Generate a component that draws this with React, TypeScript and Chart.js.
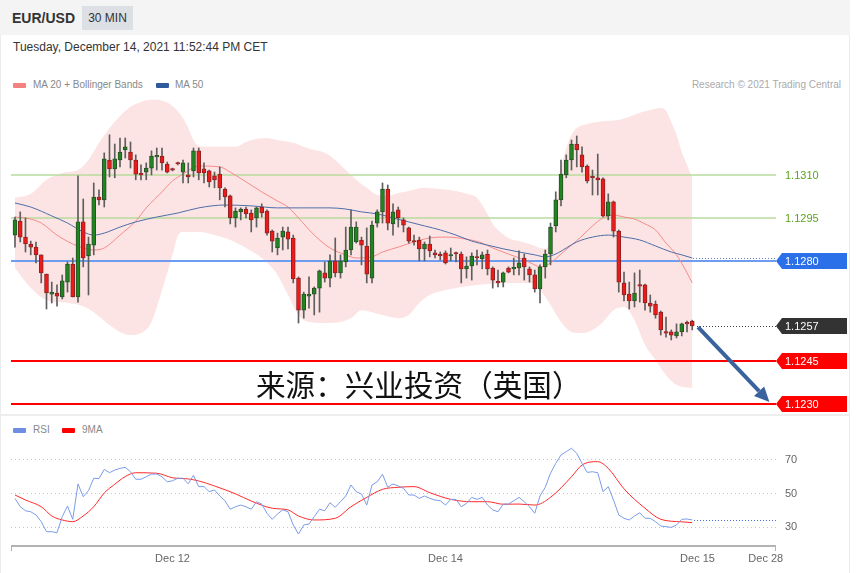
import React, { useEffect, useRef } from "react";
import { Chart, registerables } from "chart.js";
Chart.register(...registerables);

// ---------- DATA (EUR/USD, 30 min candles) ----------
const opens = [
  1.12890, 1.12939, 1.12883, 1.12859, 1.12848, 1.12821, 1.12754, 1.12684, 1.12688, 1.12674,
  1.12726, 1.12789, 1.12674, 1.12936, 1.12817, 1.12855, 1.13023, 1.13013, 1.13152, 1.13121,
  1.13152, 1.13187, 1.13180, 1.13152, 1.13103, 1.13110, 1.13124, 1.13163, 1.13166, 1.13138,
  1.13121, 1.13142, 1.13110, 1.13100, 1.13114, 1.13184, 1.13121, 1.13114, 1.13097, 1.13103,
  1.13051, 1.13027, 1.12950, 1.12971, 1.12981, 1.12967, 1.12950, 1.12988, 1.12974, 1.12904,
  1.12845, 1.12883, 1.12901, 1.12880, 1.12740, 1.12628, 1.12677, 1.12684, 1.12705, 1.12758,
  1.12740, 1.12800, 1.12758, 1.12796, 1.12838, 1.12866, 1.12873, 1.12852, 1.12740, 1.12932,
  1.12971, 1.13051, 1.12929, 1.12978, 1.12943, 1.12915, 1.12869, 1.12873, 1.12842, 1.12859,
  1.12828, 1.12824, 1.12828, 1.12817, 1.12828, 1.12824, 1.12772, 1.12782, 1.12814, 1.12807,
  1.12824, 1.12775, 1.12726, 1.12726, 1.12775, 1.12772, 1.12775, 1.12810, 1.12772, 1.12751,
  1.12702, 1.12779, 1.12824, 1.12922, 1.13013, 1.13100, 1.13152, 1.13208, 1.13170, 1.13131,
  1.13093, 1.13090, 1.13086, 1.12957, 1.13006, 1.12904, 1.12723, 1.12684, 1.12660, 1.12716,
  1.12716, 1.12653, 1.12649, 1.12621, 1.12552, 1.12552, 1.12538, 1.12552, 1.12583, 1.12590,
];
const highs = [
  1.12953, 1.12971, 1.12950, 1.12869, 1.12866, 1.12821, 1.12754, 1.12726, 1.12716, 1.12751,
  1.12796, 1.12810, 1.13097, 1.13016, 1.12883, 1.13072, 1.13048, 1.13177, 1.13240, 1.13208,
  1.13229, 1.13229, 1.13215, 1.13170, 1.13135, 1.13142, 1.13184, 1.13194, 1.13194, 1.13145,
  1.13124, 1.13145, 1.13152, 1.13142, 1.13194, 1.13194, 1.13142, 1.13117, 1.13110, 1.13128,
  1.13055, 1.13030, 1.12985, 1.12985, 1.12988, 1.12978, 1.12988, 1.12999, 1.12978, 1.12908,
  1.12897, 1.12918, 1.12918, 1.12890, 1.12744, 1.12691, 1.12744, 1.12709, 1.12768, 1.12796,
  1.12821, 1.12880, 1.12821, 1.12918, 1.12978, 1.12936, 1.12883, 1.12915, 1.12939, 1.12978,
  1.13072, 1.13065, 1.12999, 1.12988, 1.12950, 1.12918, 1.12890, 1.12883, 1.12866, 1.12887,
  1.12838, 1.12831, 1.12835, 1.12845, 1.12831, 1.12831, 1.12814, 1.12828, 1.12838, 1.12831,
  1.12838, 1.12779, 1.12768, 1.12761, 1.12779, 1.12810, 1.12835, 1.12824, 1.12779, 1.12768,
  1.12786, 1.12838, 1.12932, 1.13041, 1.13152, 1.13170, 1.13222, 1.13236, 1.13198, 1.13135,
  1.13117, 1.13173, 1.13090, 1.13034, 1.13009, 1.12908, 1.12761, 1.12726, 1.12758, 1.12768,
  1.12719, 1.12681, 1.12660, 1.12625, 1.12604, 1.12559, 1.12580, 1.12583, 1.12590, 1.12593,
];
const lows = [
  1.12848, 1.12866, 1.12831, 1.12821, 1.12793, 1.12723, 1.12632, 1.12653, 1.12642, 1.12667,
  1.12691, 1.12674, 1.12656, 1.12779, 1.12681, 1.12821, 1.12995, 1.12988, 1.13093, 1.13090,
  1.13128, 1.13159, 1.13124, 1.13083, 1.13083, 1.13083, 1.13100, 1.13117, 1.13117, 1.13107,
  1.13114, 1.13135, 1.13072, 1.13072, 1.13093, 1.13083, 1.13072, 1.13058, 1.13055, 1.13013,
  1.12988, 1.12929, 1.12918, 1.12943, 1.12950, 1.12901, 1.12918, 1.12953, 1.12890, 1.12831,
  1.12821, 1.12838, 1.12842, 1.12723, 1.12583, 1.12600, 1.12635, 1.12611, 1.12621, 1.12726,
  1.12709, 1.12744, 1.12740, 1.12779, 1.12821, 1.12862, 1.12786, 1.12723, 1.12723, 1.12918,
  1.12932, 1.12908, 1.12890, 1.12918, 1.12901, 1.12862, 1.12855, 1.12800, 1.12800, 1.12814,
  1.12810, 1.12803, 1.12789, 1.12800, 1.12796, 1.12723, 1.12740, 1.12733, 1.12786, 1.12772,
  1.12751, 1.12705, 1.12709, 1.12709, 1.12758, 1.12751, 1.12751, 1.12733, 1.12726, 1.12691,
  1.12653, 1.12740, 1.12786, 1.12901, 1.12992, 1.13090, 1.13117, 1.13128, 1.13110, 1.13072,
  1.13030, 1.13030, 1.12953, 1.12943, 1.12883, 1.12691, 1.12660, 1.12632, 1.12639, 1.12656,
  1.12628, 1.12621, 1.12600, 1.12541, 1.12534, 1.12524, 1.12531, 1.12538, 1.12552, 1.12559,
];
const closes = [
  1.12943, 1.12883, 1.12859, 1.12848, 1.12821, 1.12758, 1.12688, 1.12691, 1.12677, 1.12730,
  1.12789, 1.12674, 1.12936, 1.12810, 1.12859, 1.13023, 1.13013, 1.13156, 1.13121, 1.13156,
  1.13180, 1.13198, 1.13152, 1.13103, 1.13100, 1.13124, 1.13166, 1.13166, 1.13142, 1.13110,
  1.13117, 1.13138, 1.13142, 1.13093, 1.13184, 1.13107, 1.13107, 1.13076, 1.13083, 1.13055,
  1.13023, 1.12950, 1.12974, 1.12981, 1.12964, 1.12943, 1.12985, 1.12967, 1.12897, 1.12869,
  1.12880, 1.12904, 1.12876, 1.12737, 1.12628, 1.12684, 1.12684, 1.12705, 1.12765, 1.12740,
  1.12800, 1.12758, 1.12800, 1.12838, 1.12918, 1.12918, 1.12855, 1.12754, 1.12925, 1.12971,
  1.13051, 1.12932, 1.12971, 1.12950, 1.12925, 1.12869, 1.12866, 1.12842, 1.12859, 1.12835,
  1.12821, 1.12817, 1.12793, 1.12821, 1.12824, 1.12772, 1.12782, 1.12817, 1.12810, 1.12821,
  1.12772, 1.12733, 1.12723, 1.12758, 1.12761, 1.12775, 1.12793, 1.12779, 1.12751, 1.12702,
  1.12779, 1.12824, 1.12918, 1.13013, 1.13103, 1.13152, 1.13208, 1.13187, 1.13128, 1.13079,
  1.13090, 1.13083, 1.12957, 1.13006, 1.12904, 1.12726, 1.12681, 1.12660, 1.12688, 1.12712,
  1.12653, 1.12642, 1.12611, 1.12559, 1.12548, 1.12541, 1.12552, 1.12580, 1.12580, 1.12573,
];

// Bollinger bands (MA 20 +/- 2 sd), sampled by candle index
const bandUpperIdx = [0, 3, 6, 9, 12, 14, 16, 18, 20, 22, 24, 26, 28, 30, 32, 33, 34, 35, 38, 42, 44, 46, 48, 50, 53, 56, 59, 61, 63, 65, 67, 69, 71, 73, 75, 78, 81, 84, 86, 88, 89, 90, 91, 92, 94, 96, 98, 100, 101, 102, 103, 104, 105, 106, 107, 109, 111, 113, 115, 117, 119, 121, 123, 124, 125, 126, 127, 128, 129];
const bandUpper = [1.13020, 1.13034, 1.13083, 1.13107, 1.13117, 1.13152, 1.13212, 1.13264, 1.13306, 1.13338, 1.13355, 1.13362, 1.13359, 1.13341, 1.13299, 1.13264, 1.13222, 1.13201, 1.13198, 1.13198, 1.13215, 1.13226, 1.13229, 1.13222, 1.13212, 1.13191, 1.13177, 1.13152, 1.13117, 1.13083, 1.13055, 1.13030, 1.13027, 1.13037, 1.13044, 1.13055, 1.13051, 1.13044, 1.13034, 1.13020, 1.12995, 1.12964, 1.12929, 1.12908, 1.12880, 1.12869, 1.12859, 1.12845, 1.12842, 1.12873, 1.12978, 1.13117, 1.13194, 1.13240, 1.13264, 1.13278, 1.13285, 1.13289, 1.13292, 1.13303, 1.13317, 1.13327, 1.13334, 1.13324, 1.13285, 1.13240, 1.13180, 1.13135, 1.13090];
const bandLowerIdx = [0, 3, 6, 10, 13, 15, 18, 20, 22, 24, 26, 28, 30, 31, 32, 35, 38, 41, 44, 47, 50, 52, 54, 56, 60, 64, 66, 68, 70, 73, 75, 77, 79, 82, 85, 90, 95, 98, 100, 102, 104, 106, 108, 110, 112, 114, 116, 118, 120, 122, 124, 126, 129];
const bandLower = [1.12775, 1.12705, 1.12663, 1.12653, 1.12642, 1.12621, 1.12576, 1.12552, 1.12541, 1.12548, 1.12587, 1.12698, 1.12821, 1.12887, 1.12901, 1.12901, 1.12890, 1.12873, 1.12845, 1.12810, 1.12751, 1.12681, 1.12611, 1.12587, 1.12583, 1.12600, 1.12628, 1.12621, 1.12611, 1.12600, 1.12611, 1.12653, 1.12681, 1.12698, 1.12709, 1.12719, 1.12723, 1.12723, 1.12698, 1.12646, 1.12587, 1.12552, 1.12548, 1.12559, 1.12587, 1.12628, 1.12639, 1.12593, 1.12506, 1.12454, 1.12401, 1.12367, 1.12356];

const ma20Idx = [0, 3, 5, 8, 11, 13, 15, 17, 20, 23, 25, 28, 30, 32, 35, 39, 41, 44, 47, 50, 52, 54, 57, 60, 63, 65, 68, 70, 73, 76, 79, 82, 86, 89, 91, 94, 97, 99, 100, 102, 104, 106, 108, 110, 112, 114, 116, 118, 120, 122, 124, 126, 128, 129];
const ma20 = [1.12953, 1.12946, 1.12932, 1.12890, 1.12859, 1.12845, 1.12838, 1.12845, 1.12890, 1.12939, 1.12985, 1.13041, 1.13079, 1.13103, 1.13131, 1.13128, 1.13110, 1.13076, 1.13041, 1.13009, 1.12988, 1.12950, 1.12890, 1.12845, 1.12821, 1.12810, 1.12814, 1.12831, 1.12848, 1.12866, 1.12880, 1.12883, 1.12876, 1.12862, 1.12845, 1.12824, 1.12803, 1.12786, 1.12779, 1.12793, 1.12824, 1.12855, 1.12887, 1.12922, 1.12950, 1.12960, 1.12953, 1.12946, 1.12929, 1.12908, 1.12862, 1.12821, 1.12758, 1.12723];

const ma50Idx = [0, 3, 7, 10, 13, 15, 17, 20, 23, 27, 31, 35, 40, 45, 50, 55, 60, 63, 66, 69, 72, 75, 78, 81, 84, 87, 90, 93, 96, 99, 101, 103, 105, 107, 110, 113, 116, 119, 122, 125, 127, 129];
const ma50 = [1.13002, 1.12988, 1.12957, 1.12932, 1.12901, 1.12890, 1.12897, 1.12918, 1.12936, 1.12953, 1.12967, 1.12985, 1.12995, 1.12992, 1.12985, 1.12985, 1.12985, 1.12981, 1.12971, 1.12964, 1.12950, 1.12936, 1.12922, 1.12908, 1.12890, 1.12869, 1.12855, 1.12842, 1.12831, 1.12821, 1.12814, 1.12824, 1.12845, 1.12866, 1.12883, 1.12890, 1.12883, 1.12873, 1.12852, 1.12831, 1.12821, 1.12810];

// RSI (one value per candle) and its 9-period MA
const rsi = [
  46.8, 41.8, 39.4, 38.8, 36.9, 32.9, 26.9, 26.9, 26.3, 35.9,
  42.2, 34.3, 55.4, 47.8, 51.4, 58.8, 58.6, 64.1, 62.1, 63.7,
  64.7, 65.3, 62.7, 58.2, 58.2, 59.7, 61.3, 61.3, 59.7, 56.7,
  57.3, 58.8, 58.8, 55.5, 60.6, 53.8, 53.8, 50.8, 51.8, 48.2,
  45.4, 40.3, 41.8, 42.8, 41.8, 40.3, 44.8, 43.4, 37.9, 34.3,
  37.5, 39.9, 38.8, 30.9, 25.5, 30.9, 31.5, 35.9, 40.3, 39.4,
  44.2, 41.5, 44.8, 48.2, 54.8, 50.8, 49.4, 42.8, 54.8, 56.7,
  61.2, 53.4, 55.4, 54.2, 52.8, 48.8, 48.8, 46.8, 48.2, 46.8,
  45.8, 45.4, 42.8, 46.2, 46.2, 41.8, 43.8, 47.4, 46.2, 47.4,
  42.8, 39.9, 38.8, 43.4, 43.4, 45.4, 47.4, 44.8, 41.8, 37.9,
  48.2, 53.4, 61.8, 67.7, 72.7, 74.7, 76.7, 73.7, 67.7, 62.3,
  62.7, 62.1, 50.8, 53.8, 45.8, 36.9, 34.9, 33.9, 36.3, 38.2,
  34.9, 34.9, 32.9, 30.3, 29.9, 29.5, 30.9, 34.3, 34.5, 33.9,
];
const rsiMaIdx = [0, 2, 5, 7, 9, 11, 13, 15, 17, 19, 21, 23, 27, 30, 33, 35, 38, 42, 45, 49, 52, 54, 57, 61, 64, 67, 70, 73, 76, 79, 83, 87, 90, 93, 96, 99, 102, 106, 108, 111, 113, 116, 120, 123, 127, 129];
const rsiMa = [48.8, 45.8, 41.8, 36.3, 33.9, 32.9, 36.3, 41.8, 50.0, 55.2, 59.8, 62.1, 61.8, 59.1, 58.4, 57.2, 54.2, 49.5, 45.2, 40.9, 39.9, 36.3, 33.9, 34.9, 41.8, 47.4, 52.2, 53.4, 53.8, 50.2, 46.2, 44.8, 44.8, 43.3, 43.4, 42.8, 47.4, 59.7, 66.7, 68.7, 64.7, 52.5, 40.9, 34.3, 32.8, 32.3];

// Key levels, ticks and the forecast arrow
const resistanceLevels = [1.131, 1.1295];
const pivotLevel = 1.128;
const supportLevels = [1.1245, 1.123];
const xTickIdx = [30, 82, 130, 143];
const xTickLabels = ["Dec 12", "Dec 14", "Dec 15", "Dec 28"];
const rsiTicks = [30, 50, 70];
const arrowFrom = { x: 130.1, y: 1.12569 };
const arrowTo = { x: 143.7, y: 1.12307 };

// ---------- LAYOUT ----------
const FONT = '"Liberation Sans", Arial, Helvetica, sans-serif';
const X_MIN = -0.76;
const X_MAX = 144.95;

const pts = (ix: number[], v: number[]) => ix.map((x, k) => ({ x, y: v[k] }));

function dotted(ctx: CanvasRenderingContext2D, x0: number, x1: number, y: number, color: string, step: number) {
  ctx.save();
  ctx.fillStyle = color;
  const py = Math.round(y);
  for (let x = x0; x < x1; x += step) ctx.fillRect(Math.round(x), py, 1, 1);
  ctx.restore();
}

const mainPlugin = {
  id: "mainDeco",
  afterDatasetDraw(chart: any, args: any) {
    if (args.index !== 1) return;
    const { ctx, chartArea: a } = chart;
    const y = chart.scales.y;
    const hline = (v: number, color: string, w: number) => {
      const py = Math.round(y.getPixelForValue(v));
      ctx.save();
      ctx.strokeStyle = color;
      ctx.lineWidth = w;
      ctx.beginPath();
      ctx.moveTo(a.left, py);
      ctx.lineTo(a.right, py);
      ctx.stroke();
      ctx.restore();
    };
    resistanceLevels.forEach((v) => hline(v, "#b7db9e", 1.5));
    hline(pivotLevel, "#6d9cf0", 2);
    supportLevels.forEach((v) => hline(v, "#ff0000", 2));
  },
  afterDraw(chart: any) {
    const { ctx, chartArea: a } = chart;
    const y = chart.scales.y;
    const x = chart.scales.x;
    const last = closes.length - 1;
    // dotted extensions
    dotted(ctx, x.getPixelForValue(ma50Idx[ma50Idx.length - 1]) + 1, a.right, y.getPixelForValue(ma50[ma50.length - 1]), "#5b80c4", 3);
    dotted(ctx, x.getPixelForValue(last) + 5, a.right, y.getPixelForValue(closes[last]), "#444444", 3);

    // arrow
    const x0 = x.getPixelForValue(arrowFrom.x), y0 = y.getPixelForValue(arrowFrom.y);
    const x1 = x.getPixelForValue(arrowTo.x), y1 = y.getPixelForValue(arrowTo.y);
    const ang = Math.atan2(y1 - y0, x1 - x0);
    const headLen = 15, headW = 7;
    const bx = x1 - headLen * Math.cos(ang), by = y1 - headLen * Math.sin(ang);
    ctx.save();
    ctx.strokeStyle = "#3a639d";
    ctx.fillStyle = "#3a639d";
    ctx.lineWidth = 4;
    ctx.beginPath();
    ctx.moveTo(x0, y0);
    ctx.lineTo(bx, by);
    ctx.stroke();
    ctx.beginPath();
    ctx.moveTo(x1, y1);
    ctx.lineTo(bx + headW * Math.sin(ang), by - headW * Math.cos(ang));
    ctx.lineTo(bx - headW * Math.sin(ang), by + headW * Math.cos(ang));
    ctx.closePath();
    ctx.fill();
    ctx.restore();

    // tags
    const tag = (v: number, bg: string | null, fg: string) => {
      const py = Math.round(y.getPixelForValue(v));
      const xl = a.right, xr = a.right + 71, h = 16;
      ctx.save();
      if (bg) {
        ctx.fillStyle = bg;
        ctx.beginPath();
        ctx.moveTo(xl, py);
        ctx.lineTo(xl + 6, py - h / 2);
        ctx.lineTo(xr, py - h / 2);
        ctx.lineTo(xr, py + h / 2);
        ctx.lineTo(xl + 6, py + h / 2);
        ctx.closePath();
        ctx.fill();
      }
      ctx.fillStyle = fg;
      ctx.font = "11px " + FONT;
      ctx.textBaseline = "middle";
      ctx.textAlign = "left";
      ctx.fillText(v.toFixed(4), xl + 9, py + 0.5);
      ctx.restore();
    };
    resistanceLevels.forEach((v) => tag(v, null, "#5ba51c"));
    tag(pivotLevel, "#2b6fe9", "#ffffff");
    tag(closes[last], "#333333", "#ffffff");
    supportLevels.forEach((v) => tag(v, "#ff0000", "#ffffff"));
  },
};

const rsiPlugin = {
  id: "rsiDeco",
  beforeDatasetsDraw(chart: any) {
    const { ctx, chartArea: a } = chart;
    const y = chart.scales.y;
    rsiTicks.forEach((t) => dotted(ctx, a.left, a.right, y.getPixelForValue(t), "#c4c4c4", 4));
  },
  afterDraw(chart: any) {
    const { ctx, chartArea: a } = chart;
    const y = chart.scales.y;
    const x = chart.scales.x;
    const last = rsi.length - 1;
    dotted(ctx, x.getPixelForValue(last) + 2, a.right, y.getPixelForValue(rsi[last]), "#4a6fe0", 3);
    ctx.save();
    ctx.font = "11px " + FONT;
    ctx.fillStyle = "#666666";
    ctx.textBaseline = "middle";
    ctx.textAlign = "left";
    rsiTicks.forEach((t) => ctx.fillText(String(t), a.right + 9, y.getPixelForValue(t) + 0.5));
    // x axis
    ctx.strokeStyle = "#b3b3b3";
    ctx.lineWidth = 2;
    ctx.beginPath();
    ctx.moveTo(a.left, a.bottom);
    ctx.lineTo(a.right, a.bottom);
    ctx.stroke();
    ctx.lineWidth = 1;
    ctx.beginPath();
    ctx.moveTo(a.left + 0.5, a.bottom);
    ctx.lineTo(a.left + 0.5, a.bottom + 5);
    ctx.moveTo(a.right - 0.5, a.bottom);
    ctx.lineTo(a.right - 0.5, a.bottom + 5);
    ctx.stroke();
    ctx.fillStyle = "#666666";
    ctx.textAlign = "center";
    xTickIdx.forEach((t, k) => ctx.fillText(xTickLabels[k], x.getPixelForValue(t), a.bottom + 12.5));
    ctx.restore();
  },
};

export default function App() {
  const mainRef = useRef<HTMLCanvasElement>(null);
  const rsiRef = useRef<HTMLCanvasElement>(null);

  useEffect(() => {
    document.body.style.margin = "0";
    const idx = closes.map((_, i) => i);
    const isUp = idx.map((i) => closes[i] > opens[i]);
    const main = new Chart(mainRef.current as HTMLCanvasElement, {
      type: "bar",
      data: {
        datasets: [
          {
            type: "line",
            label: "upper",
            data: pts(bandUpperIdx, bandUpper),
            borderColor: "rgba(0,0,0,0)",
            borderWidth: 0,
            pointRadius: 0,
            fill: false,
            cubicInterpolationMode: "monotone",
            order: 20,
          } as any,
          {
            type: "line",
            label: "lower",
            data: pts(bandLowerIdx, bandLower),
            borderColor: "rgba(0,0,0,0)",
            borderWidth: 0,
            pointRadius: 0,
            fill: "-1",
            backgroundColor: "#fde4e4",
            cubicInterpolationMode: "monotone",
            order: 19,
          } as any,
          {
            type: "line",
            label: "MA 20",
            data: pts(ma20Idx, ma20),
            borderColor: "#f68b8b",
            borderWidth: 1,
            pointRadius: 0,
            fill: false,
            cubicInterpolationMode: "monotone",
            order: 6,
          } as any,
          {
            type: "line",
            label: "MA 50",
            data: pts(ma50Idx, ma50),
            borderColor: "#4d6ea8",
            borderWidth: 1,
            pointRadius: 0,
            fill: false,
            cubicInterpolationMode: "monotone",
            order: 5,
          } as any,
          {
            type: "bar",
            label: "wick",
            data: idx.map((i) => ({ x: i, y: [lows[i], highs[i]] })),
            backgroundColor: "#5e5e5e",
            barThickness: 1,
            grouped: false,
            borderWidth: 0,
            order: 3,
          } as any,
          {
            type: "bar",
            label: "body",
            data: idx.map((i) => ({ x: i, y: [opens[i], closes[i]] })),
            backgroundColor: idx.map((i) => (isUp[i] ? "#1f861f" : "#ee1a1a")),
            borderColor: idx.map((i) => (isUp[i] ? "#2a4f2a" : "#8c2222")),
            borderWidth: 1,
            borderSkipped: false,
            barThickness: 4,
            minBarLength: 1.5,
            grouped: false,
            order: 2,
          } as any,
        ],
      },
      options: {
        responsive: false,
        animation: false,
        devicePixelRatio: 1,
        events: [],
        layout: { padding: { left: 11, right: 74, top: 0, bottom: 0 } },
        plugins: { legend: { display: false }, tooltip: { enabled: false } },
        scales: {
          x: { type: "linear", min: X_MIN, max: X_MAX, offset: false, display: false },
          y: { type: "linear", min: 1.12269, max: 1.13379, display: false },
        },
      } as any,
      plugins: [mainPlugin],
    });

    const rsiChart = new Chart(rsiRef.current as HTMLCanvasElement, {
      type: "line",
      data: {
        datasets: [
          {
            label: "RSI",
            data: pts(idx, rsi),
            borderColor: "#7b9be9",
            borderWidth: 1,
            pointRadius: 0,
            tension: 0,
            fill: false,
          },
          {
            label: "9MA",
            data: pts(rsiMaIdx, rsiMa),
            borderColor: "#ff2a2a",
            borderWidth: 1,
            pointRadius: 0,
            cubicInterpolationMode: "monotone",
            fill: false,
          },
        ],
      },
      options: {
        responsive: false,
        animation: false,
        devicePixelRatio: 1,
        events: [],
        layout: { padding: { left: 11, right: 74, top: 25, bottom: 27 } },
        plugins: { legend: { display: false }, tooltip: { enabled: false } },
        scales: {
          x: { type: "linear", min: X_MIN, max: X_MAX, display: false },
          y: { type: "linear", min: 18.36, max: 81.64, display: false },
        },
      } as any,
      plugins: [rsiPlugin],
    });

    return () => {
      main.destroy();
      rsiChart.destroy();
    };
  }, []);

  const abs = (s: React.CSSProperties): React.CSSProperties => ({ position: "absolute", ...s });
  const swatch = (left: number, top: number, color: string) => (
    <div style={abs({ left, top, width: 13, height: 5, background: color, borderRadius: 1 })} />
  );

  return (
    <div style={{ position: "relative", width: 865, height: 573, background: "#fff", fontFamily: FONT, overflow: "hidden" }}>
      <div style={abs({ left: 0, top: 0, width: 850, height: 35, background: "#f4f4f4" })} />
      <div style={abs({ left: 12, top: 10, fontSize: 14, lineHeight: "16px", fontWeight: "bold", color: "#333" })}>EUR/USD</div>
      <div style={abs({ left: 82, top: 6, width: 51, height: 24, background: "#dcdfe4", color: "#333", fontSize: 12, lineHeight: "24px", textAlign: "center" })}>30 MIN</div>
      <div style={abs({ left: 0, top: 35, width: 1, height: 538, background: "#ececec" })} />
      <div style={abs({ left: 849, top: 35, width: 1, height: 538, background: "#ececec" })} />
      <div style={abs({ left: 13, top: 40, fontSize: 12, lineHeight: "14px", color: "#333" })}>Tuesday, December 14, 2021 11:52:44 PM CET</div>

      {swatch(13, 83, "#f58080")}
      <div style={abs({ left: 33, top: 79, fontSize: 10, lineHeight: "12px", color: "#888" })}>MA 20 + Bollinger Bands</div>
      {swatch(156, 83, "#2f5b9d")}
      <div style={abs({ left: 175, top: 79, fontSize: 10, lineHeight: "12px", color: "#888" })}>MA 50</div>
      <div style={abs({ left: 600, width: 241, top: 79, fontSize: 10, lineHeight: "12px", color: "#aaa", textAlign: "right" })}>Research © 2021 Trading Central</div>

      <canvas ref={mainRef} width={850} height={318} style={abs({ left: 0, top: 95, width: 850, height: 318 })} />

      <div style={abs({ left: 256, top: 369, fontSize: 29.6, lineHeight: "30px", color: "#111", fontFamily: '"Noto Sans CJK SC", sans-serif', whiteSpace: "nowrap" })}>来源：兴业投资（英国）</div>

      <div style={abs({ left: 1, top: 414, width: 848, height: 2, background: "#eeeeee" })} />

      {swatch(13, 428, "#6d8ee3")}
      <div style={abs({ left: 33, top: 424, fontSize: 10, lineHeight: "12px", color: "#888" })}>RSI</div>
      {swatch(62, 428, "#ff0000")}
      <div style={abs({ left: 82, top: 424, fontSize: 10, lineHeight: "12px", color: "#888" })}>9MA</div>

      <canvas ref={rsiRef} width={850} height={158} style={abs({ left: 0, top: 415, width: 850, height: 158 })} />
    </div>
  );
}
